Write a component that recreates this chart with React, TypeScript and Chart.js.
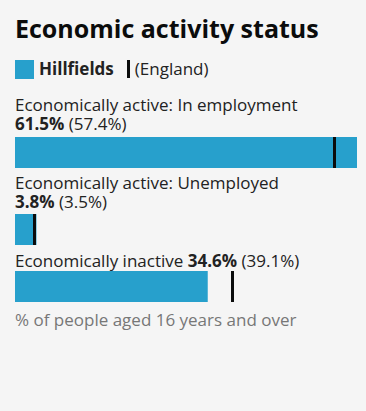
import React, { useEffect, useRef } from "react";
import { Chart, registerables } from "chart.js";

Chart.register(...registerables);

const title = "Economic activity status";
const areaName = "Hillfields";
const compareName = "England";
const categories = [
  "Economically active: In employment",
  "Economically active: Unemployed",
  "Economically inactive",
];
const areaValues = [61.5, 3.8, 34.6];
const englandValues = [57.4, 3.5, 39.1];
const footnote = "% of people aged 16 years and over";

const BLUE = "#27a0cc";
const MARK = "#0b0c0c";
const FONT = "'Open Sans', 'Noto Sans', sans-serif";
const maxValue = Math.max(...areaValues, ...englandValues);

const markerPlugin = {
  id: "englandMarker",
  afterDatasetsDraw(chart: any, _args: any, opts: any) {
    const { ctx, chartArea, scales } = chart;
    const x = scales.x.getPixelForValue(opts.value);
    ctx.save();
    ctx.fillStyle = MARK;
    ctx.fillRect(Math.round(x - 1.5), chartArea.top, 3, chartArea.bottom - chartArea.top);
    ctx.restore();
  },
};

function BarRow({ index }: { index: number }) {
  const ref = useRef<HTMLCanvasElement | null>(null);
  useEffect(() => {
    if (!ref.current) return;
    const chart = new Chart(ref.current, {
      type: "bar",
      data: {
        labels: [categories[index]],
        datasets: [
          {
            data: [areaValues[index]],
            backgroundColor: BLUE,
            borderWidth: 0,
            barPercentage: 1,
            categoryPercentage: 1,
          },
        ],
      },
      options: {
        indexAxis: "y",
        responsive: false,
        animation: false,
        events: [],
        layout: { padding: 0 },
        scales: {
          x: { display: false, min: 0, max: maxValue },
          y: { display: false },
        },
        plugins: {
          legend: { display: false },
          tooltip: { enabled: false },
          englandMarker: { value: englandValues[index] },
        } as any,
      },
      plugins: [markerPlugin],
    } as any);
    return () => chart.destroy();
  }, [index]);
  return <canvas ref={ref} width={342} height={31} style={{ display: "block" }} />;
}

const labelTop = [15.8, 5.2, 5.7];
const barTop = [3.8, 3.3, 1.3];

export default function App() {
  useEffect(() => {
    document.body.style.margin = "0";
    document.body.style.background = "#f5f5f5";
  }, []);
  return (
    <div
      style={{
        width: 366,
        height: 411,
        background: "#f5f5f5",
        fontFamily: FONT,
        color: "#222",
        boxSizing: "border-box",
        paddingLeft: 15,
        paddingTop: 13.6,
      }}
    >
      <div style={{ fontSize: 25, fontWeight: 700, lineHeight: "28px", color: "#0b0c0c" }}>{title}</div>
      <div
        style={{
          marginTop: 17.8,
          height: 20,
          display: "flex",
          alignItems: "center",
          fontSize: 17,
          lineHeight: "20px",
        }}
      >
        <span style={{ width: 19, height: 19, background: BLUE, display: "inline-block", marginRight: 5 }} />
        <span style={{ fontWeight: 700 }}>{areaName}</span>
        <span
          style={{ width: 3, height: 18, background: MARK, display: "inline-block", marginLeft: 13, marginRight: 5 }}
        />
        <span>({compareName})</span>
      </div>
      <div style={{ width: 342 }}>
        {categories.map((c, i) => (
          <div key={c}>
            <div style={{ marginTop: labelTop[i], fontSize: 17, lineHeight: "19px" }}>
              {c}{" "}
              <span style={{ whiteSpace: "nowrap" }}>
                <b>{areaValues[i].toFixed(1)}%</b> ({englandValues[i].toFixed(1)}%)
              </span>
            </div>
            <div style={{ marginTop: barTop[i] }}>
              <BarRow index={i} />
            </div>
          </div>
        ))}
      </div>
      <div style={{ marginTop: 7.1, fontSize: 17, lineHeight: "19px", color: "#777" }}>{footnote}</div>
    </div>
  );
}
